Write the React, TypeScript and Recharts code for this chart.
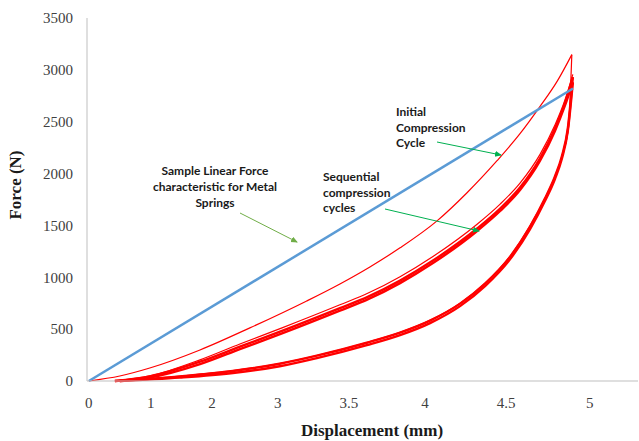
import { LineChart, Line, XAxis, YAxis } from "recharts";

// x axis labels, and where each one sits along the axis (the source axis is not evenly spaced)
const TICK_MM = [0, 1, 2, 3, 3.5, 4, 4.5, 5];
const TICK_POS = [0, 1, 1.99, 3.05, 4.2, 5.43, 6.74, 8.09];
const Y_TICKS = [0, 500, 1000, 1500, 2000, 2500, 3000, 3500];

// sample linear spring
const LINEAR_MM = [0, 4.9];
const LINEAR_N = [0, 2820];

// initial compression cycle
const INIT_LOAD_MM = [0, 0.5, 0.984, 1.803, 2.576, 3.204, 3.437, 3.638, 3.836, 4.074, 4.259, 4.444, 4.583, 4.702, 4.804, 4.893];
const INIT_LOAD_N = [0, 48, 125, 299, 512, 772, 936, 1100, 1284, 1544, 1815, 2124, 2384, 2645, 2886, 3147];
const INIT_UNLOAD_MM = [4.893, 4.886, 4.874, 4.838, 4.797, 4.737, 4.648, 4.529, 4.375, 4.221, 4.036, 3.841, 3.623, 3.28, 3.02, 2.32, 1.48, 0.5];
const INIT_UNLOAD_N = [3147, 2850, 2460, 2190, 1995, 1780, 1510, 1215, 950, 755, 590, 472, 374, 248, 170, 100, 48, 0];

// sequential compression cycles - loading
const LOAD_MM = [0.42, 0.984, 1.803, 2.424, 3.035, 3.437, 3.627, 3.836, 4.049, 4.321, 4.463, 4.583, 4.702, 4.792, 4.851, 4.899];
const LOAD_2_N = [0, 49, 204, 357, 515, 735, 848, 1006, 1201, 1512, 1706, 1908, 2183, 2468, 2704, 2956];
const LOAD_3_N = [0, 45, 186, 331, 485, 702, 813, 968, 1161, 1470, 1663, 1865, 2145, 2435, 2676, 2930];
const LOAD_4_N = [0, 33, 162, 307, 461, 678, 789, 944, 1137, 1446, 1639, 1841, 2121, 2411, 2652, 2880];

// sequential compression cycles - unloading
const UNLOAD_MM = [4.899, 4.869, 4.833, 4.792, 4.732, 4.643, 4.524, 4.37, 4.216, 4.031, 3.836, 3.618, 3.275, 3.014, 2.318, 1.475, 0.5];
const UNLOAD_A_N = [2930, 2435, 2165, 1972, 1759, 1489, 1199, 939, 746, 582, 466, 369, 244, 166, 97, 45, 0];
const UNLOAD_B_N = [2880, 2411, 2141, 1948, 1735, 1465, 1175, 915, 722, 558, 442, 345, 220, 142, 77, 33, 0];

const toPos = (mm: number) => {
  for (let i = 1; i < TICK_MM.length; i++) {
    if (mm <= TICK_MM[i]) {
      const t = (mm - TICK_MM[i - 1]) / (TICK_MM[i] - TICK_MM[i - 1]);
      return TICK_POS[i - 1] + t * (TICK_POS[i] - TICK_POS[i - 1]);
    }
  }
  return TICK_POS[TICK_POS.length - 1];
};

const pts = (mm: number[], n: number[]) => mm.map((m, i) => ({ x: toPos(m), f: n[i] }));

const RED = "#FF0000";
const series = [
  { key: "init-load", data: pts(INIT_LOAD_MM, INIT_LOAD_N), color: RED, width: 1.2 },
  { key: "init-unload", data: pts(INIT_UNLOAD_MM, INIT_UNLOAD_N), color: RED, width: 1.2 },
  { key: "load-2", data: pts(LOAD_MM, LOAD_2_N), color: RED, width: 1.2 },
  { key: "load-3", data: pts(LOAD_MM, LOAD_3_N), color: RED, width: 2.4 },
  { key: "load-4", data: pts(LOAD_MM, LOAD_4_N), color: RED, width: 2.4 },
  { key: "unload-a", data: pts(UNLOAD_MM, UNLOAD_A_N), color: RED, width: 2.4 },
  { key: "unload-b", data: pts(UNLOAD_MM, UNLOAD_B_N), color: RED, width: 2.4 },
  { key: "linear", data: pts(LINEAR_MM, LINEAR_N), color: "#5B9BD5", width: 2.5 },
];

const tickFmt = (v: number) => {
  const i = TICK_POS.findIndex((p) => Math.abs(p - v) < 1e-6);
  return i >= 0 ? String(TICK_MM[i]) : "";
};

const serif = "Liberation Serif, Times New Roman, serif";
const note = { fontFamily: "Lato, sans-serif", fontWeight: 700, fontSize: 12, fill: "#1a1a1a" };

export default function App() {
  return (
    <div style={{ position: "absolute", left: 0, top: 0, width: 639, height: 441, background: "#fff" }}>
      <LineChart width={639} height={441} margin={{ top: 18, right: 1, bottom: 0, left: 0 }}>
        <XAxis
          dataKey="x"
          type="number"
          domain={[-0.03, 8.87]}
          ticks={TICK_POS}
          tickFormatter={tickFmt}
          height={60}
          tickLine={false}
          tickSize={0}
          tickMargin={16}
          axisLine={{ stroke: "#BFBFBF" }}
          tick={{ fontFamily: serif, fontSize: 15, fill: "#404040" }}
          allowDataOverflow
        />
        <YAxis
          type="number"
          domain={[0, 3500]}
          ticks={Y_TICKS}
          width={87}
          tickLine={false}
          tickSize={0}
          tickMargin={14}
          axisLine={{ stroke: "#BFBFBF" }}
          tick={{ fontFamily: serif, fontSize: 15, fill: "#404040" }}
        />
        {series.map((s) => (
          <Line
            key={s.key}
            data={s.data}
            dataKey="f"
            type="monotone"
            stroke={s.color}
            strokeWidth={s.width}
            dot={false}
            activeDot={false}
            isAnimationActive={false}
          />
        ))}
      </LineChart>

      <svg width={639} height={441} style={{ position: "absolute", left: 0, top: 0, pointerEvents: "none" }}>
        <defs>
          <marker id="ah1" markerWidth="8" markerHeight="8" refX="6" refY="3" orient="auto" markerUnits="userSpaceOnUse">
            <path d="M0,0 L7,3 L0,6 z" fill="#70AD47" />
          </marker>
          <marker id="ah2" markerWidth="8" markerHeight="8" refX="6" refY="3" orient="auto" markerUnits="userSpaceOnUse">
            <path d="M0,0 L7,3 L0,6 z" fill="#00B050" />
          </marker>
        </defs>

        <text x={15} y={185} transform="rotate(-90 15 185)" textAnchor="middle" dominantBaseline="central"
          style={{ fontFamily: serif }} fontWeight={700} fontSize={17} fill="#1a1a1a">Force (N)</text>
        <text x={372} y={436} textAnchor="middle" style={{ fontFamily: serif }} fontWeight={700} fontSize={17} fill="#1a1a1a">
          Displacement (mm)
        </text>

        <text x={215} textAnchor="middle" {...note}>
          <tspan x={215} y={175}>Sample Linear Force</tspan>
          <tspan x={215} y={191}>characteristic for Metal</tspan>
          <tspan x={215} y={207}>Springs</tspan>
        </text>
        <line x1={240} y1={213} x2={297} y2={242} stroke="#70AD47" strokeWidth={1} markerEnd="url(#ah1)" />

        <text {...note}>
          <tspan x={396} y={116}>Initial</tspan>
          <tspan x={396} y={132}>Compression</tspan>
          <tspan x={396} y={147}>Cycle</tspan>
        </text>
        <line x1={437} y1={142} x2={501} y2={155} stroke="#00B050" strokeWidth={1} markerEnd="url(#ah2)" />

        <text {...note}>
          <tspan x={323} y={181}>Sequential</tspan>
          <tspan x={323} y={197}>compression</tspan>
          <tspan x={323} y={212}>cycles</tspan>
        </text>
        <line x1={385} y1={209} x2={479} y2={231} stroke="#00B050" strokeWidth={1} markerEnd="url(#ah2)" />
      </svg>
    </div>
  );
}
